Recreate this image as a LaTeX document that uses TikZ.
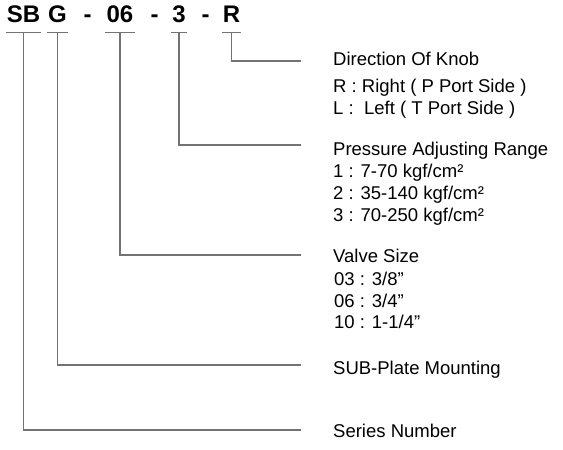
\documentclass[tikz,border=0pt]{standalone}
\usepackage{fontspec}
\setmainfont{Liberation Sans}
\usepackage{tikz}

\begin{document}
\begin{tikzpicture}[x = 1pt, y = -1pt,
                      code/.style = {anchor = base, inner xsep = 1pt, inner ysep = 0pt, text depth = 9.5pt,
                                     font = \fontsize{24}{24}\bfseries\selectfont},
                      item/.style = {anchor = base west, inner sep = 0pt, font = \fontsize{18.5}{22}\selectfont},
                      lead/.style = {draw = black!55, line width = 1.2pt}]
    \useasboundingbox (0, 0) rectangle (563, 450);

    % model code
    \node [code] (sb) at (23.5, 22.5){SB};
    \node [code] (g) at (57.5, 22.5){G};
    \node [code] (d1) at (87.5, 22.5){-};
    \node [code] (size) at (120, 22.5){06};
    \node [code] (d2) at (154.5, 22.5){-};
    \node [code] (press) at (179, 22.5){3};
    \node [code] (d3) at (205.5, 22.5){-};
    \node [code] (knob) at (231.5, 22.5){R};
    \draw[lead] (sb.south west) -- (sb.south east);
    \draw[lead] (g.south west) -- (g.south east);
    \draw[lead] (size.south west) -- (size.south east);
    \draw[lead] (press.south west) -- (press.south east);
    \draw[lead] (knob.south west) -- (knob.south east);

    % descriptions
    \node [item] (knobT) at (333, 65.5){Direction Of Knob};
    \node [item] (knobR) at (333, 92.5){R : Right ( P Port Side )};
    \node [item] (knobL) at (333, 114){L : \ Left ( T Port Side )};
    \node [item] (pressT) at (333, 155){Pressure Adjusting Range};
    \node [item] (press1) at (333, 177){1 : 7-70 kgf/cm²};
    \node [item] (press2) at (333, 199){2 : 35-140 kgf/cm²};
    \node [item] (press3) at (333, 221){3 : 70-250 kgf/cm²};
    \node [item] (sizeT) at (333, 262){Valve Size};
    \node [item] (size03) at (334, 285){03 : 3/8\symbol{34}};
    \node [item] (size06) at (334, 307){06 : 3/4\symbol{34}};
    \node [item] (size10) at (334, 328.5){10 : 1-1/4\symbol{34}};
    \node [item] (gT) at (333, 374){SUB-Plate Mounting};
    \node [item] (sbT) at (333, 437){Series Number};

    \coordinate (knobE) at (301, 61);
    \coordinate (pressE) at (301, 145);
    \coordinate (sizeE) at (301, 255);
    \coordinate (gE) at (301, 365);
    \coordinate (sbE) at (301, 430);
    \draw[lead] (knob.south) |- (knobE);
    \draw[lead] (press.south) |- (pressE);
    \draw[lead] (size.south) |- (sizeE);
    \draw[lead] (g.south) |- (gE);
    \draw[lead] (sb.south) |- (sbE);
    \end{tikzpicture}
\end{document}
